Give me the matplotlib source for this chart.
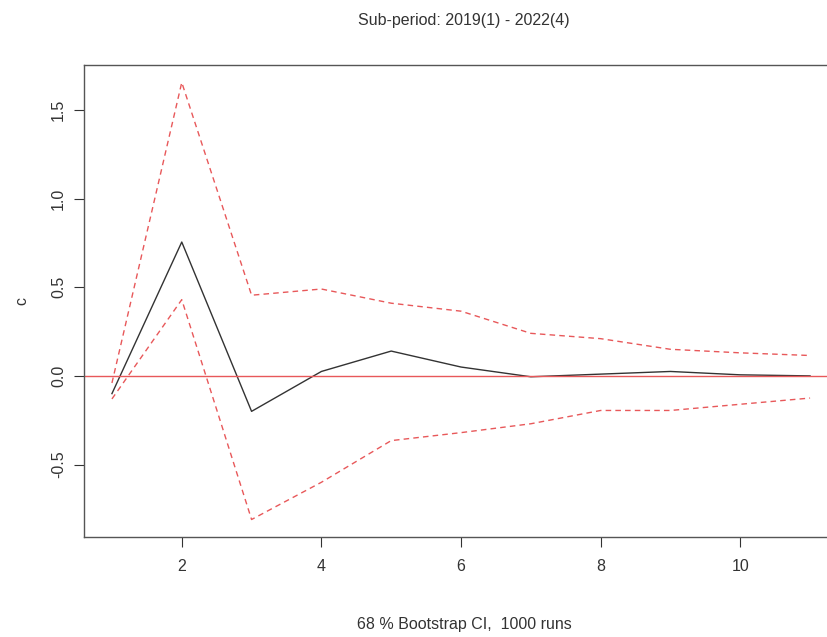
import matplotlib
matplotlib.use("Agg")
import matplotlib.pyplot as plt

plt.rcParams["font.family"] = ["Liberation Sans", "DejaVu Sans"]

horizon = [1, 2, 3, 4, 5, 6, 7, 8, 9, 10, 11]
irf = [-0.10, 0.755, -0.20, 0.025, 0.14, 0.05, -0.005, 0.01, 0.025, 0.006, 0.0]
upper = [-0.04, 1.655, 0.455, 0.49, 0.41, 0.365, 0.24, 0.21, 0.15, 0.13, 0.115]
lower = [-0.13, 0.43, -0.81, -0.60, -0.365, -0.32, -0.27, -0.195, -0.195, -0.16, -0.125]

xticks = [2, 4, 6, 8, 10]
yticks = [-0.5, 0.0, 0.5, 1.0, 1.5]

fig = plt.figure(figsize=(8.27, 6.37), dpi=100)
ax = fig.add_axes([0.1016, 0.157, 0.9117, 0.741])

ax.plot(horizon, irf, color="#333333", lw=1.0)
ax.plot(horizon, upper, color="#e8585a", lw=1.0, ls=(0, (4, 3)))
ax.plot(horizon, lower, color="#e8585a", lw=1.0, ls=(0, (4, 3)))
ax.axhline(0, color="#e8585a", lw=1.0)

# R-style 4% padding
lo, hi = min(lower), max(upper)
pad = (hi - lo) * 0.04
ax.set_ylim(lo - pad, hi + pad)
xpad = (max(horizon) - min(horizon)) * 0.04
ax.set_xlim(min(horizon) - xpad, max(horizon) + xpad)

ax.set_xticks(xticks)
ax.set_xticklabels([str(t) for t in xticks])
ax.set_yticks(yticks)
ax.set_yticklabels([f"{t:.1f}" for t in yticks], rotation=90, va="center")
ax.tick_params(direction="out", length=7, width=0.8, labelsize=11.5, colors="#333333")
ax.tick_params(axis="x", pad=9)
ax.tick_params(axis="y", pad=6)
for s in ax.spines.values():
    s.set_color("#555555")
    s.set_linewidth(1.0)

ax.set_ylabel("c", fontsize=11.5, color="#333333")
ax.yaxis.set_label_coords(-0.072, 0.5)
fig.text(0.561, 0.019, "68 % Bootstrap CI,  1000 runs", ha="center", va="center", fontsize=11.5, color="#333333")
fig.text(0.561, 0.968, "Sub-period: 2019(1) - 2022(4)", ha="center", va="center", fontsize=11.5, color="#333333")

fig.savefig("out.png", dpi=100)
